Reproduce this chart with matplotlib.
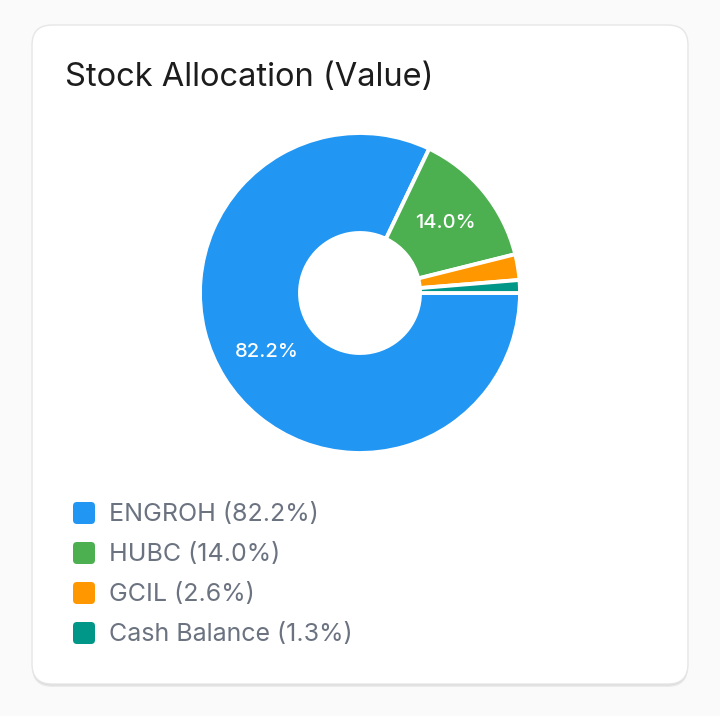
import matplotlib
matplotlib.use("Agg")
import matplotlib.pyplot as plt
import numpy as np
from matplotlib.patches import FancyBboxPatch

plt.rcParams["font.family"] = ["Inter", "DejaVu Sans"]

# Data
labels = ["ENGROH", "HUBC", "GCIL", "Cash Balance"]
values = [82.2, 14.0, 2.6, 1.3]
colors = ["#2196F3", "#4CAF50", "#FF9800", "#009688"]
title = "Stock Allocation (Value)"

W, H = 720, 716
fig = plt.figure(figsize=(W / 100, H / 100), dpi=100)
fig.patch.set_facecolor("#fafafa")

# background axes in pixel coordinates
bg = fig.add_axes([0, 0, 1, 1])
bg.set_xlim(0, W)
bg.set_ylim(H, 0)
bg.set_axis_off()

# card shadow + card
for off, a in [(3, 0.06), (1.5, 0.08)]:
    bg.add_patch(FancyBboxPatch((32, 25 + off), 656, 659, boxstyle="round,pad=0,rounding_size=20",
                                facecolor="black", edgecolor="none", alpha=a))
bg.add_patch(FancyBboxPatch((32, 25), 656, 659, boxstyle="round,pad=0,rounding_size=20",
                            facecolor="white", edgecolor="#e6e6e6", linewidth=1))

bg.text(65, 78, title, fontsize=23.5, color="#1c1c1c", ha="left", va="center")

# donut
cx, cy, r = 360, 293, 160
pax = fig.add_axes([(cx - r) / W, (H - cy - r) / H, 2 * r / W, 2 * r / H])
wedges, _ = pax.pie(values, colors=colors, startangle=0, counterclock=False,
                    radius=1.0, wedgeprops=dict(width=100 / 160, edgecolor="white", linewidth=2.8))
pax.set_xlim(-1, 1)
pax.set_ylim(-1, 1)
pax.set_aspect("equal")
pax.set_axis_off()

# percentage labels on the larger slices
total = sum(values)
start = 0.0
for v in values:
    ang = np.deg2rad(start - v / total * 360 / 2)
    start -= v / total * 360
    if v / total > 0.05:
        rr = 110 / 160
        pax.text(rr * np.cos(ang), rr * np.sin(ang), f"{v:.1f}%", color="white",
                 fontsize=14.5, fontweight="medium", ha="center", va="center")

# legend
for i, (lab, v, c) in enumerate(zip(labels, values, colors)):
    y = 513 + i * 40
    bg.add_patch(FancyBboxPatch((73, y - 11), 22, 22, boxstyle="round,pad=0,rounding_size=4",
                                facecolor=c, edgecolor="none"))
    bg.text(109, y + 1, f"{lab} ({v:.1f}%)", fontsize=18, color="#6b7280",
            ha="left", va="center")

fig.savefig("out.png", dpi=100, facecolor=fig.get_facecolor())
